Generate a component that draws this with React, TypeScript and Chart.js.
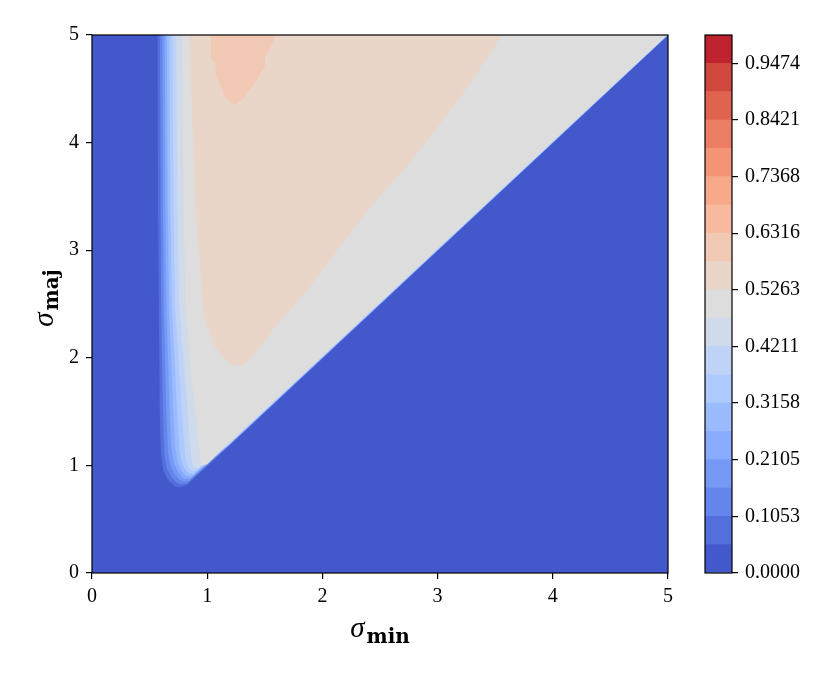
import React, { useEffect, useRef } from 'react';
import { Chart, registerables } from 'chart.js';

Chart.register(...registerables);

// ---------- data ----------
const xTicks = [0, 1, 2, 3, 4, 5];
const yTicks = [0, 1, 2, 3, 4, 5];
const colorbarTickLabels = ['0.0000', '0.1053', '0.2105', '0.3158', '0.4211', '0.5263', '0.6316', '0.7368', '0.8421', '0.9474'];
const bandCount = 19;
const xTitle = { symbol: 'σ', sub: 'min' };
const yTitle = { symbol: 'σ', sub: 'maj' };

// Boundaries of the regions where value >= k/19 (σ_min, σ_maj), filled up to σ_maj = 5
const contourLevel0: [number, number][] = [[0, 0], [5, 0]];
const contourLevel1: [number, number][] = [[0.567, 5], [0.572, 3.5], [0.58, 2.5], [0.588, 1.5], [0.598, 1.1], [0.62, 0.95], [0.66, 0.865], [0.72, 0.805], [0.77, 0.8], [0.82, 0.815], [1.2, 1.19], [5, 4.995]];
const contourLevel2: [number, number][] = [[0.59, 5], [0.594, 3.5], [0.6, 2.5], [0.615, 1.5], [0.628, 1.1], [0.65, 0.97], [0.69, 0.89], [0.74, 0.835], [0.785, 0.825], [0.83, 0.835], [1.2, 1.195], [5, 5]];
const contourLevel3: [number, number][] = [[0.61, 5], [0.615, 3.5], [0.622, 2.5], [0.645, 1.5], [0.66, 1.12], [0.685, 0.99], [0.72, 0.915], [0.76, 0.865], [0.8, 0.85], [0.84, 0.855], [1.2, 1.198], [5, 5]];
const contourLevel4: [number, number][] = [[0.63, 5], [0.636, 3.5], [0.645, 2.5], [0.675, 1.5], [0.69, 1.15], [0.715, 1.01], [0.75, 0.935], [0.785, 0.89], [0.815, 0.875], [0.85, 0.875], [1.2, 1.2], [5, 5]];
const contourLevel5: [number, number][] = [[0.65, 5], [0.657, 3.5], [0.668, 2.5], [0.705, 1.5], [0.725, 1.15], [0.745, 1.03], [0.775, 0.955], [0.81, 0.91], [0.835, 0.9], [0.865, 0.898], [1.2, 1.203], [5, 5.002]];
const contourLevel6: [number, number][] = [[0.672, 5], [0.68, 3.5], [0.692, 2.5], [0.74, 1.5], [0.76, 1.15], [0.775, 1.05], [0.8, 0.975], [0.83, 0.935], [0.855, 0.925], [0.88, 0.92], [1.2, 1.206], [5, 5.004]];
const contourLevel7: [number, number][] = [[0.697, 5], [0.706, 3.5], [0.72, 2.5], [0.78, 1.5], [0.8, 1.2], [0.81, 1.07], [0.83, 0.995], [0.855, 0.96], [0.875, 0.95], [0.895, 0.945], [1.2, 1.21], [5, 5.006]];
const contourLevel8: [number, number][] = [[0.73, 5], [0.74, 3.5], [0.755, 2.5], [0.83, 1.5], [0.85, 1.2], [0.86, 1.09], [0.87, 1.02], [0.885, 0.985], [0.9, 0.975], [0.915, 0.97], [1.2, 1.215], [5, 5.008]];
const contourLevel9: [number, number][] = [[0.78, 5], [0.795, 3.5], [0.81, 2.5], [0.865, 1.79], [0.92, 1.3], [0.935, 1.1], [0.94, 1.04], [0.95, 1.01], [0.96, 1.0], [1.0, 1.01], [1.2, 1.22], [5, 5.01]];
const contourLevel10: [number, number][] = [[0.85, 5], [0.86, 4.5], [0.88, 4.0], [0.894, 3.47], [0.93, 3.0], [0.96, 2.5], [0.98, 2.35], [1.07, 2.1], [1.17, 1.98], [1.22, 1.93], [1.31, 1.93], [1.4, 2.02], [1.6, 2.3], [1.87, 2.63], [2.2, 3.1], [2.47, 3.47], [2.75, 3.8], [2.98, 4.12], [3.25, 4.5], [3.56, 5]];
const contourLevel11: [number, number][] = [[1.03, 5], [1.03, 4.78], [1.07, 4.75], [1.08, 4.61], [1.13, 4.5], [1.14, 4.44], [1.2, 4.38], [1.24, 4.35], [1.28, 4.38], [1.33, 4.43], [1.36, 4.49], [1.41, 4.55], [1.46, 4.64], [1.5, 4.69], [1.5, 4.8], [1.55, 4.89], [1.6, 5]];

const contourLevels = [
  contourLevel0, contourLevel1, contourLevel2, contourLevel3, contourLevel4, contourLevel5,
  contourLevel6, contourLevel7, contourLevel8, contourLevel9, contourLevel10, contourLevel11,
];

// ---------- colormap (coolwarm) ----------
const coolwarmTable: [number, number, number][] = [
  [59, 76, 192], [68, 90, 204], [77, 104, 215], [87, 117, 225], [98, 130, 234], [108, 142, 241],
  [119, 154, 247], [130, 165, 251], [141, 176, 254], [152, 185, 255], [163, 194, 255], [174, 201, 253],
  [184, 208, 249], [194, 213, 244], [204, 217, 238], [213, 219, 230], [221, 221, 221], [229, 216, 209],
  [236, 211, 197], [241, 204, 184], [245, 196, 172], [247, 187, 159], [247, 177, 147], [247, 166, 134],
  [244, 154, 123], [241, 141, 111], [236, 127, 99], [229, 112, 88], [222, 96, 77], [213, 80, 66],
  [203, 62, 56], [192, 40, 47], [180, 4, 38],
];

function coolwarm(t: number): string {
  const n = coolwarmTable.length - 1;
  const p = Math.min(Math.max(t, 0), 1) * n;
  const i = Math.min(Math.floor(p), n - 1);
  const f = p - i;
  const a = coolwarmTable[i];
  const b = coolwarmTable[i + 1];
  const c = a.map((v, j) => Math.round(v + (b[j] - v) * f));
  return `rgb(${c[0]},${c[1]},${c[2]})`;
}

const bandColor = (k: number) => coolwarm((k + 0.5) / bandCount);

const TICK_FONT = { family: '"Liberation Serif", "DejaVu Serif", serif', size: 20 };

const framePlugin = {
  id: 'frame',
  afterDatasetsDraw(chart: any) {
    const { left, right, top, bottom } = chart.chartArea;
    const ctx = chart.ctx;
    ctx.save();
    ctx.strokeStyle = '#000';
    ctx.lineWidth = 1.2;
    ctx.strokeRect(left, top, right - left, bottom - top);
    ctx.restore();
  },
};

const titlePlugin = {
  id: 'axisTitles',
  afterDraw(chart: any) {
    const ctx = chart.ctx;
    const { left, right, top, bottom } = chart.chartArea;
    const symFont = 'italic 29px "Liberation Serif", serif';
    const subFont = 'bold 20px "DejaVu Serif", serif';
    const gap = 2;
    ctx.save();
    ctx.fillStyle = '#000';
    ctx.textBaseline = 'alphabetic';
    ctx.textAlign = 'left';
    // x title
    ctx.font = symFont;
    const w1 = ctx.measureText(xTitle.symbol).width;
    ctx.font = subFont;
    const w2 = ctx.measureText(xTitle.sub).width;
    const x0 = (left + right) / 2 - (w1 + gap + w2) / 2;
    ctx.font = symFont;
    ctx.fillText(xTitle.symbol, x0, 637);
    ctx.font = subFont;
    ctx.fillText(xTitle.sub, x0 + w1 + gap, 643);
    // y title
    ctx.font = symFont;
    const v1 = ctx.measureText(yTitle.symbol).width;
    ctx.font = subFont;
    const v2 = ctx.measureText(yTitle.sub).width;
    ctx.translate(53, (top + bottom) / 2 - 6);
    ctx.rotate(-Math.PI / 2);
    const y0 = -(v1 + gap + v2) / 2;
    ctx.font = symFont;
    ctx.fillText(yTitle.symbol, y0, 0);
    ctx.font = subFont;
    ctx.fillText(yTitle.sub, y0 + v1 + gap, 5);
    ctx.restore();
  },
};

export default function App() {
  const mainRef = useRef<HTMLCanvasElement>(null);
  const barRef = useRef<HTMLCanvasElement>(null);

  useEffect(() => {
    const datasets = contourLevels.map((pts, k) => ({
      data: pts.map(([x, y]) => ({ x, y })),
      backgroundColor: bandColor(k),
      borderColor: 'rgba(0,0,0,0)',
      borderWidth: 0,
      pointRadius: 0,
      tension: 0,
      fill: 'end',
      order: contourLevels.length - k,
    }));

    const main = new Chart(mainRef.current!, {
      type: 'line',
      data: { datasets: datasets as any },
      plugins: [framePlugin, titlePlugin],
      options: {
        animation: false,
        responsive: false,
        events: [],
        layout: { padding: { left: 0, top: 35, right: 163, bottom: 0 } },
        plugins: { legend: { display: false }, tooltip: { enabled: false } },
        scales: {
          x: {
            type: 'linear',
            min: 0,
            max: 5,
            afterBuildTicks: (s: any) => { s.ticks = xTicks.map((v) => ({ value: v })); },
            afterFit: (s: any) => { s.height = 100; },
            grid: { display: true, drawOnChartArea: false, drawTicks: true, tickLength: 6, color: '#000', lineWidth: 1.2 },
            border: { display: false },
            ticks: { color: '#000', font: TICK_FONT, padding: 6, maxRotation: 0 },
          },
          y: {
            type: 'linear',
            min: 0,
            max: 5,
            afterBuildTicks: (s: any) => { s.ticks = yTicks.map((v) => ({ value: v })); },
            afterFit: (s: any) => { s.width = 92; },
            grid: { display: true, drawOnChartArea: false, drawTicks: true, tickLength: 6, color: '#000', lineWidth: 1.2 },
            border: { display: false },
            ticks: { color: '#000', font: TICK_FONT, padding: 7 },
          },
        },
      },
    });

    const barDatasets = Array.from({ length: bandCount }, (_, k) => ({
      data: [1 / bandCount],
      backgroundColor: bandColor(k),
      borderWidth: 0,
      barPercentage: 1,
      categoryPercentage: 1,
    }));

    const bar = new Chart(barRef.current!, {
      type: 'bar',
      data: { labels: [''], datasets: barDatasets },
      plugins: [framePlugin],
      options: {
        animation: false,
        responsive: false,
        events: [],
        layout: { padding: { left: 705, top: 35, right: 0, bottom: 100 } },
        plugins: { legend: { display: false }, tooltip: { enabled: false } },
        scales: {
          x: { stacked: true, display: false },
          y: {
            stacked: true,
            position: 'right',
            min: 0,
            max: 1,
            afterBuildTicks: (s: any) => { s.ticks = colorbarTickLabels.map((v) => ({ value: parseFloat(v) })); },
            afterFit: (s: any) => { s.width = 831 - 732; },
            grid: { display: true, drawOnChartArea: false, drawTicks: true, tickLength: 6, color: '#000', lineWidth: 1.2 },
            border: { display: false },
            ticks: {
              color: '#000',
              font: TICK_FONT,
              padding: 7,
              callback: (_v: any, i: number) => colorbarTickLabels[i],
            },
          },
        },
      },
    });

    return () => {
      main.destroy();
      bar.destroy();
    };
  }, []);

  return (
    <div style={{ position: 'fixed', left: 0, top: 0, width: 831, height: 673, background: '#fff' }}>
      <canvas ref={mainRef} width={831} height={673} style={{ position: 'absolute', left: 0, top: 0 }} />
      <canvas ref={barRef} width={831} height={673} style={{ position: 'absolute', left: 0, top: 0 }} />
    </div>
  );
}
